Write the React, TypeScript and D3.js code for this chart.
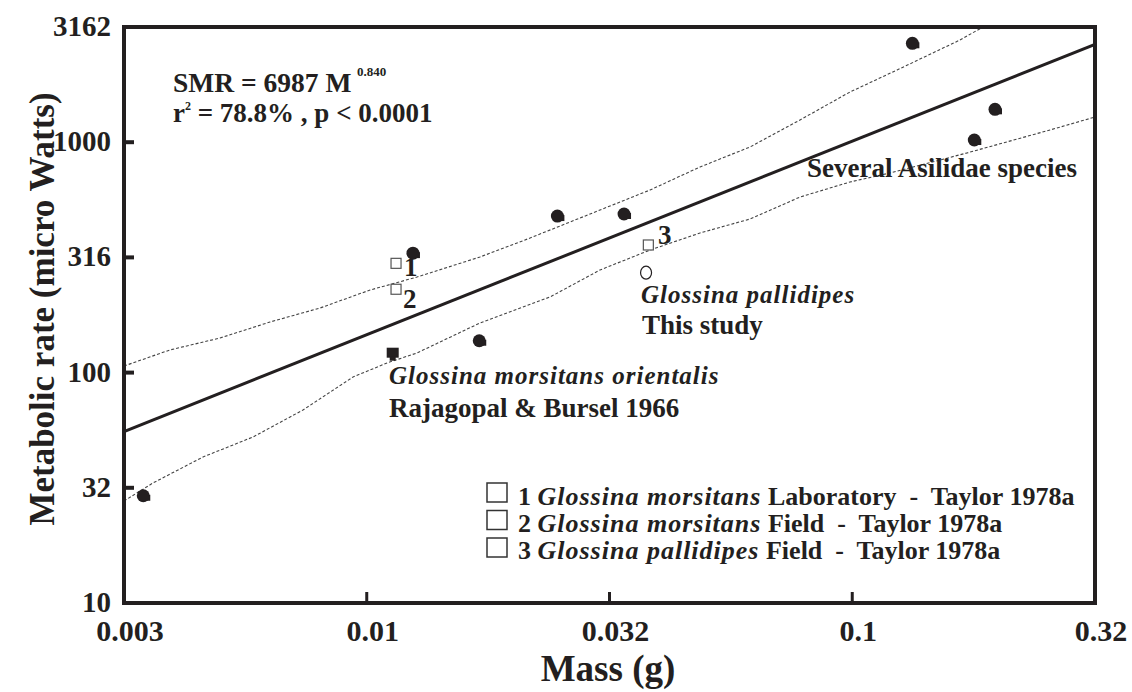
import React from "react";
import * as d3 from "d3";

// ---- Data ----
const massFilled = [0.003465, 0.01245, 0.01705, 0.0247, 0.03388, 0.133, 0.1968, 0.1784];
const rateFilled = [29.2, 330, 137.5, 478, 488, 2687, 1389, 1022];
const massFilledSq = [0.01131];
const rateFilledSq = [122];

const massTaylor = [0.01149, 0.01149, 0.03802];
const rateTaylor = [298, 230, 358];
const taylorLabels = ["1", "2", "3"];

const massThisStudy = [0.03761];
const rateThisStudy = [271.5];

const fitCoef = 6987;
const fitExp = 0.84;

const upperMass = [0.003162, 0.003933, 0.004985, 0.00632, 0.008013, 0.01016, 0.01269, 0.01711, 0.0217, 0.03023, 0.03833, 0.04858, 0.06157, 0.07806, 0.09895, 0.1237, 0.1667, 0.1859];
const upperRate = [106.8, 125.4, 141.3, 165.8, 190.7, 228.3, 259.9, 317.5, 383.9, 507.7, 620.2, 780.5, 953.2, 1249, 1652, 2058, 2777, 3162];
const lowerMass = [0.003162, 0.003628, 0.0046, 0.005831, 0.00739, 0.009369, 0.01101, 0.01269, 0.01711, 0.02385, 0.03023, 0.03833, 0.04858, 0.06157, 0.07806, 0.09895, 0.1196, 0.1723, 0.2555, 0.3162];
const lowerRate = [27.72, 33.18, 43.03, 52.54, 68.81, 95.7, 110.1, 121.7, 164.2, 212.9, 278.8, 340.4, 403.6, 464.2, 578.2, 671.9, 735.1, 898.1, 1130, 1286];

const xTickValues = [0.0031623, 0.01, 0.031623, 0.1, 0.31623];
const xTickLabels = ["0.003", "0.01", "0.032", "0.1", "0.32"];
const yTickValues = [10, 31.623, 100, 316.23, 1000, 3162.3];
const yTickLabels = ["10", "32", "100", "316", "1000", "3162"];

const legendNums = ["1", "2", "3"];
const legendSpecies = ["Glossina morsitans", "Glossina morsitans", "Glossina pallidipes"];
const legendRest = [" Laboratory  -  Taylor 1978a", " Field  -  Taylor 1978a", " Field  -  Taylor 1978a"];

const INK = "#231f20";
const FONT = "'Liberation Serif', 'Times New Roman', serif";

export default function App() {
  const W = 1132, H = 692;
  const L = 124, R = 1095, T = 27, B = 603;
  const x = d3.scaleLog().domain([0.0031623, 0.31623]).range([L, R]);
  const y = d3.scaleLog().domain([10, 3162.3]).range([B, T]);

  const line = d3.line<[number, number]>().x(d => x(d[0])).y(d => y(d[1]));
  const upper = line(upperMass.map((m, i) => [m, upperRate[i]]));
  const lower = line(lowerMass.map((m, i) => [m, lowerRate[i]]));
  const dom = x.domain();
  const fit = line(dom.map(m => [m, fitCoef * Math.pow(m, fitExp)] as [number, number]));

  return (
    <svg width={W} height={H} style={{ position: "absolute", left: 0, top: 0, background: "#fff" }} fontFamily={FONT}>
      <defs>
        <clipPath id="plot"><rect x={L} y={T} width={R - L} height={B - T} /></clipPath>
      </defs>
      <rect x={0} y={0} width={W} height={H} fill="#fff" />
      {/* bands */}
      <g clipPath="url(#plot)">
        <path d={upper || ""} fill="none" stroke="#444" strokeWidth={1.1} strokeDasharray="3,2" />
        <path d={lower || ""} fill="none" stroke="#444" strokeWidth={1.1} strokeDasharray="3,2" />
        <path d={fit || ""} fill="none" stroke={INK} strokeWidth={3} />
      </g>
      {/* frame */}
      <rect x={L} y={T} width={R - L} height={B - T} fill="none" stroke={INK} strokeWidth={4} />
      {/* ticks */}
      {xTickValues.slice(1, -1).map((v, i) => (
        <line key={"xt" + i} x1={x(v)} x2={x(v)} y1={B} y2={B - 11} stroke={INK} strokeWidth={3} />
      ))}
      {yTickValues.slice(1, -1).map((v, i) => (
        <line key={"yt" + i} x1={L} x2={L + 10} y1={y(v)} y2={y(v)} stroke={INK} strokeWidth={4} />
      ))}
      {xTickValues.map((v, i) => (
        <text key={"xl" + i} x={x(v) + 6} y={641} textAnchor="middle" fontSize={30} fontWeight="bold" fill={INK}>{xTickLabels[i]}</text>
      ))}
      {yTickValues.map((v, i) => (
        <text key={"yl" + i} x={111} y={y(v) + 9} textAnchor="end" fontSize={29} fontWeight="bold" fill={INK}>{yTickLabels[i]}</text>
      ))}
      <text x={608} y={681} textAnchor="middle" fontSize={37} fontWeight="bold" fill={INK}>Mass (g)</text>
      <text transform="translate(54,309) rotate(-90)" textAnchor="middle" fontSize={35} fontWeight="bold" fill={INK}>Metabolic rate (micro Watts)</text>

      {/* points */}
      {massFilled.map((m, i) => (
        <g key={"pf" + i}>
          <rect x={x(m) + 1} y={y(rateFilled[i]) - 1} width={6} height={6} fill={INK} />
          <circle cx={x(m)} cy={y(rateFilled[i])} r={6.5} fill={INK} />
        </g>
      ))}
      {massFilledSq.map((m, i) => (
        <g key={"ps" + i}>
          <rect x={x(m) - 6} y={y(rateFilledSq[i]) - 5} width={12} height={10} fill={INK} />
          <rect x={x(m) - 3} y={y(rateFilledSq[i]) + 4} width={6} height={4} fill={INK} />
        </g>
      ))}
      {massTaylor.map((m, i) => (
        <g key={"pt" + i}>
          <rect x={x(m) - 5} y={y(rateTaylor[i]) - 5} width={10} height={10} fill="#fff" stroke="#555" strokeWidth={1.2} />
        </g>
      ))}
      {massThisStudy.map((m, i) => (
        <ellipse key={"po" + i} cx={x(m)} cy={y(rateThisStudy[i])} rx={5.5} ry={6.5} fill="#fff" stroke={INK} strokeWidth={1.2} />
      ))}
      {/* point labels */}
      <text x={404} y={276} fontSize={27} fontWeight="bold" fill={INK}>{taylorLabels[0]}</text>
      <text x={403} y={308} fontSize={27} fontWeight="bold" fill={INK}>{taylorLabels[1]}</text>
      <text x={658} y={244} fontSize={27} fontWeight="bold" fill={INK}>{taylorLabels[2]}</text>

      {/* annotations */}
      <text x={173} y={92} fontSize={27.5} fontWeight="bold" fill={INK}>SMR = 6987 M</text>
      <text x={357} y={76} fontSize={13} fontWeight="bold" fill={INK}>0.840</text>
      <text x={173} y={122} fontSize={27} fontWeight="bold" fill={INK} style={{ whiteSpace: "pre" }}>
        r<tspan dy={-12} fontSize={12}>2</tspan><tspan dy={12}> = 78.8% , p &lt; 0.0001</tspan>
      </text>
      <text x={807} y={177} fontSize={27} fontWeight="bold" fill={INK}>Several Asilidae species</text>
      <text x={641} y={303} fontSize={25} fontStyle="italic" fontWeight="bold" fill={INK} letterSpacing={1}>Glossina pallidipes</text>
      <text x={642} y={334} fontSize={27} fontWeight="bold" fill={INK}>This study</text>
      <text x={389} y={384} fontSize={25} fontStyle="italic" fontWeight="bold" fill={INK} letterSpacing={1}>Glossina morsitans orientalis</text>
      <text x={389} y={417} fontSize={27} fontWeight="bold" fill={INK}>Rajagopal &amp; Bursel 1966</text>

      {/* legend */}
      {legendNums.map((n, i) => (
        <g key={"lg" + i}>
          <rect x={487} y={483 + i * 27.5} width={20} height={19} fill="#fff" stroke="#333" strokeWidth={1.5} />
          <text x={518} y={505 + i * 27} fontSize={26} fontWeight="bold" fill={INK} style={{ whiteSpace: "pre" }}>
            {n + " "}<tspan fontStyle="italic" letterSpacing={1}>{legendSpecies[i]}</tspan><tspan>{legendRest[i]}</tspan>
          </text>
        </g>
      ))}
    </svg>
  );
}
